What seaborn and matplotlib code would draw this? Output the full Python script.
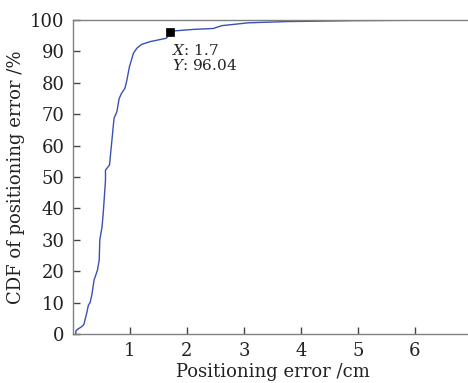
import seaborn as sns
import pandas as pd
import matplotlib
matplotlib.use("Agg")
import matplotlib.pyplot as plt

# CDF of positioning error
err_cm = [0.05, 0.05, 0.08, 0.15, 0.19, 0.21, 0.24, 0.27, 0.30, 0.33, 0.37,
          0.43, 0.46, 0.47, 0.51, 0.53, 0.55, 0.57, 0.57, 0.64, 0.68, 0.72,
          0.77, 0.81, 0.85, 0.91, 0.94, 0.99, 1.06, 1.12, 1.20, 1.35, 1.64,
          1.70, 1.76, 2.11, 2.46, 2.61, 2.87, 3.07, 3.75, 4.95, 6.70]
cdf_pct = [0.0, 1.0, 1.5, 2.3, 3.0, 4.5, 6.6, 9.2, 10.0, 12.4, 17.2,
           20.4, 23.6, 29.9, 34.2, 38.4, 43.7, 49.0, 52.2, 53.8, 61.2, 68.7,
           70.8, 75.0, 76.6, 78.2, 80.4, 85.1, 89.4, 91.0, 92.2, 93.1, 94.2,
           96.04, 96.5, 97.0, 97.3, 98.2, 98.7, 99.1, 99.5, 99.8, 100.0]

marker_x = [1.7]
marker_y = [96.04]

x_ticks = [1, 2, 3, 4, 5, 6, 7]
y_ticks = [0, 10, 20, 30, 40, 50, 60, 70, 80, 90, 100]

sns.set_style("white")
plt.rcParams["font.family"] = ["DejaVu Serif"]
plt.rcParams["mathtext.fontset"] = "dejavuserif"

df = pd.DataFrame({"err": err_cm, "cdf": cdf_pct})

fig = plt.figure(figsize=(4.68, 3.83), dpi=100)
ax = fig.add_axes([73 / 468, 49 / 383, 399 / 468, 314 / 383])

sns.lineplot(x="err", y="cdf", data=df, sort=False, estimator=None,
             color="#3a50b4", linewidth=1.0, ax=ax)
sns.scatterplot(x=marker_x, y=marker_y, marker="s", color="black",
                s=40, edgecolor="black", linewidth=0.5, ax=ax, zorder=5)

ax.text(1.74, 90.3, "$X$: 1.7", fontsize=11, color="#222222", va="center")
ax.text(1.74, 85.5, "$Y$: 96.04", fontsize=11, color="#222222", va="center")

ax.set_xlim(0, 7)
ax.set_ylim(0, 100)
ax.set_xticks(x_ticks)
ax.set_yticks(y_ticks)
ax.tick_params(direction="in", length=5, width=1.0, colors="#444444",
               labelcolor="#222222", labelsize=13, pad=6,
               bottom=True, left=True)
ax.set_xlabel("Positioning error /cm", fontsize=13, color="#222222", labelpad=2)
ax.set_ylabel("CDF of positioning error /%", fontsize=13, color="#222222",
              labelpad=4)
for side in ["left", "bottom", "top"]:
    ax.spines[side].set_color("#808080")
    ax.spines[side].set_linewidth(1.0)
ax.spines["right"].set_visible(False)

fig.savefig("out.png", dpi=100)
plt.close(fig)
